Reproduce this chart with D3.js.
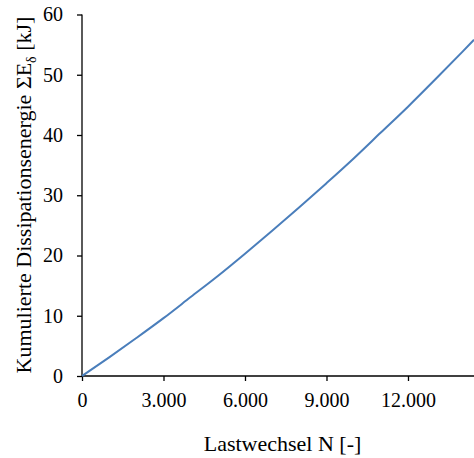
<!DOCTYPE html>
<html><head><meta charset="utf-8">
<script src="https://cdn.jsdelivr.net/npm/d3@7"></script>
<style>
body{margin:0;background:#fff;}
svg{display:block;font-family:"Liberation Serif","Times New Roman",serif;}
</style></head>
<body><svg id="c" width="474" height="458"></svg>
<script>
const cycles = [0,1000,2000,3000,4000,5000,6000,7000,8000,9000,10000,11000,12000,13000,14000,14430];
const energy = [0,3.1,6.3,9.6,13.1,16.6,20.3,24.1,28.0,32.0,36.1,40.4,44.7,49.2,53.8,55.8];
const xTicks = [0,3000,6000,9000,12000];
const yTicks = [0,10,20,30,40,50,60];
const xTitle = "Lastwechsel N [-]";

const svg = d3.select("#c");
const x = d3.scaleLinear().domain([0,14430]).range([82,474]);
const y = d3.scaleLinear().domain([0,60]).range([376,14.5]);
const fmt = d => d===0 ? "0" : d3.format(",")(d).replace(/,/g,".");

const xa = svg.append("g").attr("transform","translate(0,376)")
  .call(d3.axisBottom(x).tickValues(xTicks).tickFormat(fmt).tickSizeOuter(0).tickSize(5));
const ya = svg.append("g").attr("transform","translate(82,0)")
  .call(d3.axisLeft(y).tickValues(yTicks).tickSizeOuter(0).tickSize(5).tickPadding(14));
[xa,ya].forEach(a=>{
  a.selectAll("path,line").attr("stroke","#000").attr("stroke-width",1.3);
  a.selectAll("text").attr("font-family","Liberation Serif").attr("font-size",20).attr("fill","#000");
});
xa.selectAll("text").attr("y",31).attr("dy",null);
xa.select(".domain").attr("d","M82,0H474");
ya.select(".domain").attr("d","M0,14.5V376");

svg.append("path").datum(cycles.map((c,i)=>[c,energy[i]]))
  .attr("fill","none").attr("stroke","#4a7ebb").attr("stroke-width",2)
  .attr("d", d3.line().x(d=>x(d[0])).y(d=>y(d[1])).curve(d3.curveMonotoneX));

svg.append("text").attr("x",282.5).attr("y",451).attr("text-anchor","middle")
  .attr("font-size",22).attr("fill","#000").text(xTitle);

const yt = svg.append("text").attr("transform","translate(31,195) rotate(-90)")
  .attr("text-anchor","middle").attr("font-size",22).attr("fill","#000");
yt.append("tspan").text("Kumulierte Dissipationsenergie ΣE");
yt.append("tspan").attr("font-size",14).attr("dy",5).text("δ");
yt.append("tspan").attr("dy",-5).text(" [kJ]");
</script></body></html>
